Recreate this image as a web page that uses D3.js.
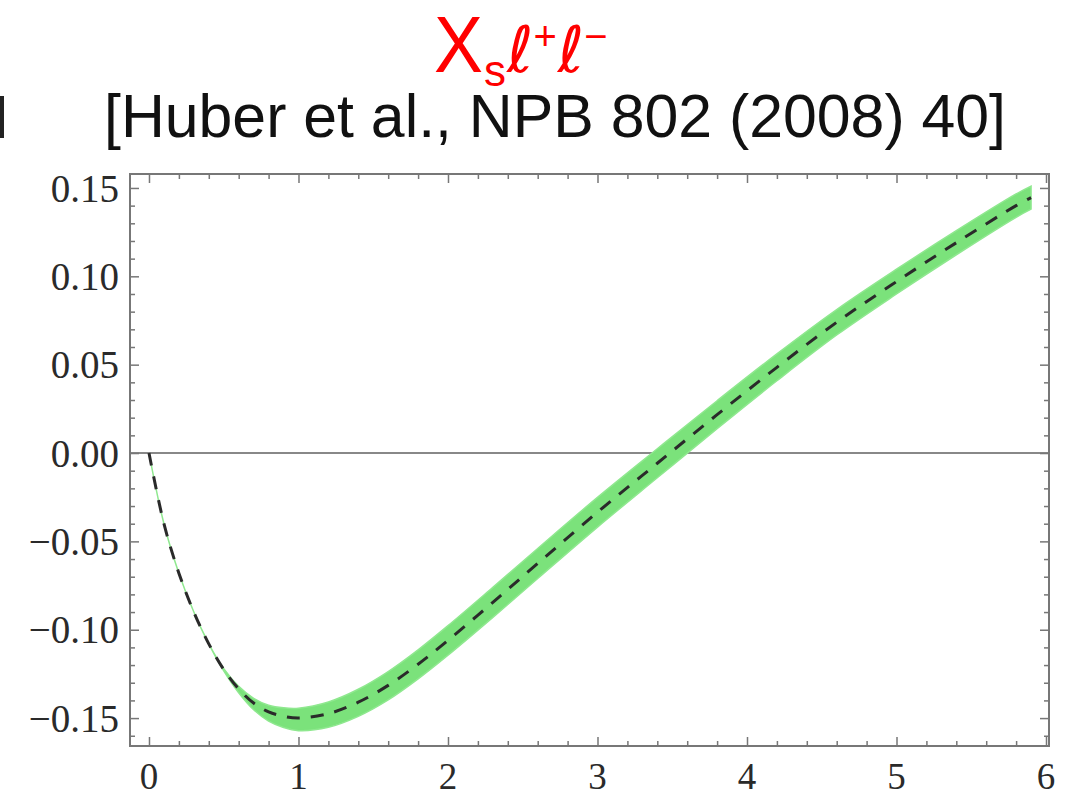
<!DOCTYPE html>
<html>
<head>
<meta charset="utf-8">
<script src="https://cdn.jsdelivr.net/npm/d3@7"></script>
<style>
  html, body { margin: 0; padding: 0; background: #fff; }
  svg { display: block; }
</style>
</head>
<body>
<svg id="chart" width="1079" height="799"></svg>
<script>
// ---- data ----
const q2 = [0, 0.1, 0.2, 0.3, 0.4, 0.5, 0.6, 0.7, 0.8, 0.9, 1.0, 1.2, 1.4, 1.6, 1.8, 2.0, 2.3, 2.6, 3.0, 3.4, 3.8, 4.2, 4.6, 5.0, 5.4, 5.8, 5.9];
const central = [0, -0.040, -0.068, -0.090, -0.108, -0.1225, -0.1335, -0.1415, -0.1465, -0.149, -0.150, -0.1475, -0.141, -0.1315, -0.1195, -0.106, -0.0845, -0.0625, -0.0335, -0.0058, 0.0217, 0.0485, 0.074, 0.097, 0.119, 0.140, 0.1445];
const upper = [0, -0.040, -0.068, -0.090, -0.108, -0.1220, -0.1320, -0.1388, -0.1427, -0.1442, -0.1444, -0.1409, -0.1337, -0.1237, -0.1114, -0.0977, -0.0760, -0.0540, -0.0251, 0.0024, 0.0296, 0.0561, 0.0812, 0.1040, 0.1258, 0.1466, 0.1510];
const lower = [0, -0.040, -0.068, -0.090, -0.108, -0.1233, -0.1357, -0.1453, -0.1517, -0.1553, -0.1571, -0.1552, -0.1490, -0.1397, -0.1278, -0.1144, -0.0930, -0.0710, -0.0419, -0.0140, 0.0138, 0.0409, 0.0668, 0.0900, 0.1122, 0.1334, 0.1380];
const xTickLabels = ["0", "1", "2", "3", "4", "5", "6"];
const yTickValues = [-0.15, -0.10, -0.05, 0.00, 0.05, 0.10, 0.15];
const titleMain = "X";
const titleSub = "s";
const titleLepton = "ℓ";
const subtitle = "[Huber et al., NPB 802 (2008) 40]";

// ---- layout ----
const L = 130, R = 1049, T = 174, B = 746;
const x = d3.scaleLinear().domain([-0.127, 6.02]).range([L, R]);
const y = d3.scaleLinear().domain([-0.1658, 0.1579]).range([B, T]);

const svg = d3.select("#chart");

// titles (one text element, pieces flowed with dx/dy)
const sans = "'Liberation Sans', Arial, sans-serif";
const lep = "'DejaVu Sans', sans-serif";
const t1 = svg.append("text").attr("x", 434).attr("y", 72).attr("fill", "#ff0000").style("font-family", sans);
t1.append("tspan").text(titleMain)
  .style("font-size", "80px").attr("textLength", 49).attr("lengthAdjust", "spacingAndGlyphs");
t1.append("tspan").attr("dx", 1).attr("dy", 14).text(titleSub).style("font-size", "44px");
t1.append("tspan").attr("dx", 1).attr("dy", -14).text(titleLepton)
  .style("font-size", "64px").style("font-style", "italic").style("font-family", lep);
t1.append("tspan").attr("dy", -22).text("+").style("font-size", "40px");
t1.append("tspan").attr("dy", 22).attr("dx", 1).text(titleLepton)
  .style("font-size", "64px").style("font-style", "italic").style("font-family", lep);
t1.append("tspan").attr("dy", -22).text("−").style("font-size", "40px");

svg.append("text").attr("x", 104).attr("y", 137)
  .attr("textLength", 902).attr("lengthAdjust", "spacingAndGlyphs")
  .style("font-family", sans)
  .style("font-size", "61px").attr("fill", "#111")
  .text(subtitle);
// cropped glyph fragment at the left edge of the reference
svg.append("rect").attr("x", 0).attr("y", 96).attr("width", 4).attr("height", 42).attr("fill", "#222");

// clip
svg.append("clipPath").attr("id", "clip").append("rect")
  .attr("x", L).attr("y", T).attr("width", R - L).attr("height", B - T);

const pts = q2.map((q, i) => ({ q, c: central[i], lo: lower[i], hi: upper[i] }));
const g = svg.append("g").attr("clip-path", "url(#clip)");

// zero line
g.append("line").attr("x1", L).attr("x2", R).attr("y1", y(0)).attr("y2", y(0))
  .attr("stroke", "#888").attr("stroke-width", 2);

// band
const area = d3.area().x(d => x(d.q)).y0(d => y(d.lo)).y1(d => y(d.hi)).curve(d3.curveCatmullRom);
g.append("path").datum(pts).attr("d", area).attr("fill", "#7be27b").attr("stroke", "#8fe88f").attr("stroke-width", 1.5);

// central dashed line
const line = d3.line().x(d => x(d.q)).y(d => y(d.c)).curve(d3.curveCatmullRom);
g.append("path").datum(pts).attr("d", line).attr("fill", "none")
  .attr("stroke", "#2a2a2a").attr("stroke-width", 3).attr("stroke-dasharray", "13,11");

// axes (Mathematica-style frame, ticks inside on all sides)
const frameColor = "#777";
const xMajor = d3.range(0, 6.001, 1);
const xMinor = d3.range(0, 6.001, 0.2).filter(v => Math.abs(v - Math.round(v)) > 1e-6);
const yMajor = yTickValues;
const yMinor = d3.range(-0.16, 0.1501, 0.01).filter(v => Math.abs(v / 0.05 - Math.round(v / 0.05)) > 1e-6);

svg.append("g").attr("transform", `translate(0,${B})`)
  .call(d3.axisTop(x).tickValues(xMajor).tickSize(9).tickFormat("").tickSizeOuter(0));
svg.append("g").attr("transform", `translate(0,${B})`)
  .call(d3.axisTop(x).tickValues(xMinor).tickSize(5).tickFormat("").tickSizeOuter(0));
svg.append("g").attr("transform", `translate(0,${T})`)
  .call(d3.axisBottom(x).tickValues(xMajor).tickSize(9).tickFormat("").tickSizeOuter(0));
svg.append("g").attr("transform", `translate(0,${T})`)
  .call(d3.axisBottom(x).tickValues(xMinor).tickSize(5).tickFormat("").tickSizeOuter(0));
svg.append("g").attr("transform", `translate(${L},0)`)
  .call(d3.axisRight(y).tickValues(yMajor).tickSize(9).tickFormat("").tickSizeOuter(0));
svg.append("g").attr("transform", `translate(${L},0)`)
  .call(d3.axisRight(y).tickValues(yMinor).tickSize(5).tickFormat("").tickSizeOuter(0));
svg.append("g").attr("transform", `translate(${R},0)`)
  .call(d3.axisLeft(y).tickValues(yMajor).tickSize(9).tickFormat("").tickSizeOuter(0));
svg.append("g").attr("transform", `translate(${R},0)`)
  .call(d3.axisLeft(y).tickValues(yMinor).tickSize(5).tickFormat("").tickSizeOuter(0));
svg.selectAll(".domain").remove();
svg.selectAll(".tick line").attr("stroke", frameColor).attr("stroke-width", 1.5);

// frame
svg.append("rect").attr("x", L).attr("y", T).attr("width", R - L).attr("height", B - T)
  .attr("fill", "none").attr("stroke", frameColor).attr("stroke-width", 2);

// tick labels
const fmtY = v => (v < 0 ? "−" : "") + Math.abs(v).toFixed(2);
const serif = "'Liberation Serif', 'Times New Roman', serif";
svg.append("g").selectAll("text").data(yTickValues).join("text")
  .attr("x", 119).attr("y", d => y(d)).attr("dy", "0.35em")
  .attr("text-anchor", "end")
  .style("font-family", serif)
  .style("font-size", "39px").attr("fill", "#2a2a2a")
  .text(fmtY);
svg.append("g").selectAll("text").data(xMajor).join("text")
  .attr("x", d => x(d)).attr("y", 789)
  .attr("text-anchor", "middle")
  .style("font-family", serif)
  .style("font-size", "37px").attr("fill", "#2a2a2a")
  .text((d, i) => xTickLabels[i]);
</script>
</body>
</html>
